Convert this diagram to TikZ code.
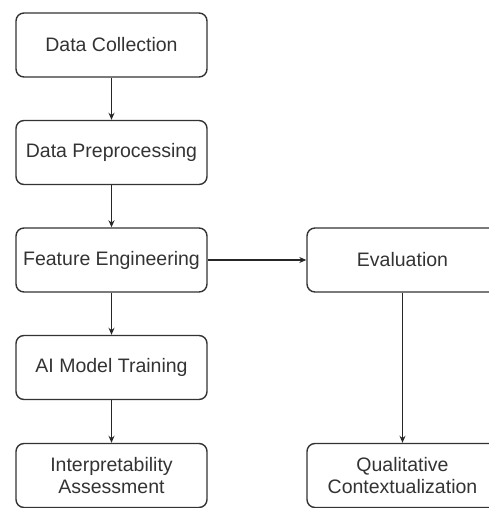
\documentclass[tikz,border=0pt]{standalone}
\usepackage{fontspec}
\setmainfont{Liberation Sans}
\usetikzlibrary{arrows.meta}
\begin{document}
\begin{tikzpicture}
[x=1pt,y=1pt,
  boxdecorate/.style={shape=rectangle,rounded corners=8pt,draw=black!80,line width=1.4pt,
    minimum width=191pt,minimum height=64pt,inner sep=0pt,align=center,
    font=\fontsize{19.5}{22}\selectfont,text=black!80},%
  arrowdecorate/.style={-{Stealth[length=7pt,width=6pt]},line width=1.2pt,draw=black!85}]
\useasboundingbox (0,0) rectangle (489,508);
%% nodes or boxes
\foreach \nodename/\x/\y/\label in {
  %% left column
  collect/111.5/463/{Data Collection},
  preproc/111.5/355.5/{Data Preprocessing},
  feature/111.5/248/{Feature Engineering},
  train/111.5/140.5/{AI Model Training},
  interp/111.5/32.5/{Interpretability\\Assessment},
  %% right column
  eval/402.5/248/{Evaluation},
  qualit/402.5/32.5/{Qualitative\\Contextualization}}
{
  \node (\nodename) at (\x,\y) [boxdecorate] {\label};
}
%% edges or arrows
\path
\foreach \startnode/\endnode in {collect/preproc, preproc/feature,
  feature/train, train/interp, feature/eval, eval/qualit}
{
  (\startnode) edge[arrowdecorate] (\endnode)
};
\end{tikzpicture}
\end{document}
